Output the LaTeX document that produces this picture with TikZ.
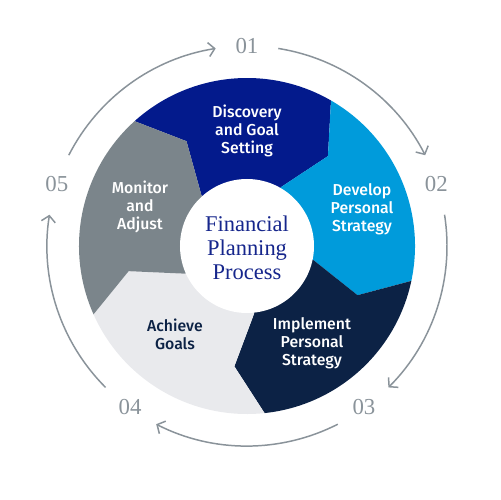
\documentclass[tikz,border=0pt]{standalone}
\usepackage{fontspec}
\setmainfont{Liberation Serif}
\setsansfont{Fira Sans}[UprightFont={* Medium}]
\usetikzlibrary{arrows.meta}
\definecolor{cDisc}{HTML}{031A8C}
\definecolor{cDev}{HTML}{009BDB}
\definecolor{cImp}{HTML}{0C2245}
\definecolor{cAch}{HTML}{E9EAED}
\definecolor{cMon}{HTML}{7B858B}
\definecolor{cNum}{HTML}{8A939A}
\definecolor{cCtr}{HTML}{16268C}
\begin{document}
\begin{tikzpicture}[x=0.02cm,y=0.02cm,
  seglabel/.style={font=\sffamily\fontsize{9}{10.2}\selectfont, align=center, text=white, inner sep=0pt},
  numlabel/.style={font=\fontsize{13}{13}\selectfont, text=cNum, inner sep=0pt},
  cycarrow/.style={draw=cNum, line width=0.85pt, -{Straight Barb[length=3.5pt,width=8pt]}}]
\useasboundingbox (-247,-254) rectangle (253,246);
% segments
\foreach \a/\c in {132/cDisc, 60/cDev, -12/cImp, -84/cAch, -156/cMon}{
  \fill[\c] (0,0) -- (\a:68) -- ({\a-12}:121) -- (\a:168)
     arc[start angle=\a, end angle={\a-72}, radius=168]
     -- ({\a-84}:121) -- ({\a-72}:68) -- cycle;
}
\fill[white] (0,0) circle[radius=67];
\node[font=\fontsize{12.8}{13.6}\selectfont, text=cCtr, align=center, inner sep=0pt] (center) at (0,-2) {Financial\\Planning\\Process};
% segment labels
\node[seglabel] (disc) at (0,115) {Discovery\\and Goal\\Setting};
\node[seglabel] (dev) at (115,37) {Develop\\Personal\\Strategy};
\node[seglabel] (imp) at (65,-97) {Implement\\Personal\\Strategy};
\node[seglabel, text=cImp] (ach) at (-72,-88) {Achieve\\Goals};
\node[seglabel] (mon) at (-107,39) {Monitor\\and\\Adjust};
% numbers
\node[numlabel] (n1) at (90:200) {01};
\node[numlabel] (n2) at (18:199) {02};
\node[numlabel] (n3) at (-54:199) {03};
\node[numlabel] (n4) at (-126:199) {04};
\node[numlabel] (n5) at (162:200) {05};
% cycle arrows
\foreach \a [count=\i] in {162,90,18,-54,-126}{
  \coordinate (s\i) at ({\a-9}:200);
  \draw[cycarrow] (s\i) arc[start angle={\a-9}, end angle={\a-63}, radius=200];
}
\end{tikzpicture}
\end{document}
